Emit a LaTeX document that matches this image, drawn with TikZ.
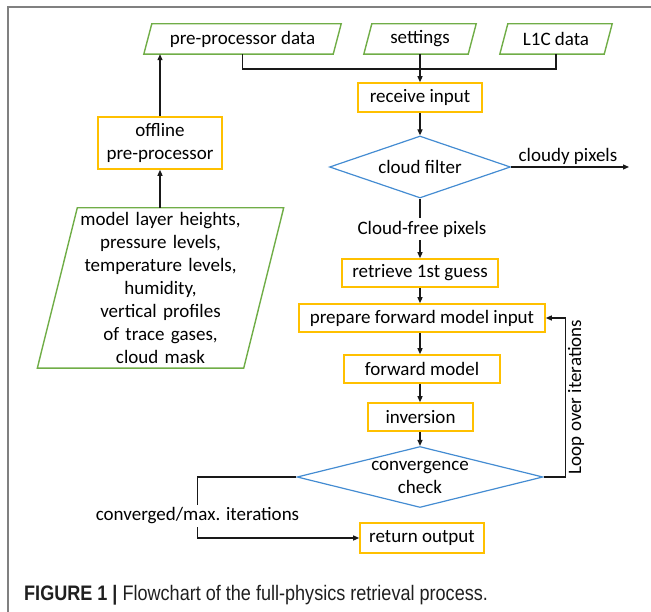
\documentclass[tikz,border=0pt]{standalone}
\usepackage{fontspec}
\setmainfont{Carlito}
\newfontfamily\capfont[FakeStretch=0.86]{Liberation Sans}
\usetikzlibrary{shapes.geometric,arrows.meta,calc}
\definecolor{pgreen}{RGB}{112,173,71}
\definecolor{pgold}{RGB}{255,192,0}
\definecolor{pblue}{RGB}{68,140,210}
\definecolor{framegray}{RGB}{128,128,128}
\newcommand{\paraoutline}[2]{\draw[paraline] ([xshift=-#2]#1.south west) -- ([xshift=#2]#1.north west) -- ([xshift=#2]#1.north east) -- ([xshift=-#2]#1.south east) -- cycle;}
\begin{document}
\begin{tikzpicture}[x=1pt,y=-1pt,
  every node/.style={font=\fontsize{19}{23}\selectfont},
  paranode/.style={draw=none, minimum height=30pt, inner sep=0pt, align=center},
  paraline/.style={draw=pgreen, line width=1.4pt, line join=miter},
  proc/.style={draw=pgold, line width=1.6pt, minimum height=28pt, inner sep=0pt, align=center},
  dec/.style={diamond, draw=pblue, line width=1.2pt, aspect=3, inner sep=0pt},
  lbl/.style={inner sep=3pt, align=center},
  conn/.style={draw=black!90, line width=1.2pt},
  arr/.style={conn, -{Triangle[length=6pt,width=5pt]}}
]
\useasboundingbox (0,0) rectangle (651,612);
\draw[framegray, line width=1.5pt] (8,612) -- (8,7) -- (651,7);

% inputs
\node[paranode, minimum width=189pt] (ppd) at (242.5,39) {pre-processor data};
\node[paranode, minimum width=104pt] (set) at (420,39) {settings};
\node[paranode, minimum width=104pt] (l1c) at (556,39) {L1C data};
\paraoutline{ppd}{4pt}
\paraoutline{set}{4pt}
\paraoutline{l1c}{4pt}

\node[paranode, minimum width=206pt, minimum height=160pt, text width=206pt] (big) at (160.5,288)
  {model layer heights,\\pressure levels,\\temperature levels,\\humidity,\\vertical profiles\\of trace gases,\\cloud mask};
\paraoutline{big}{20pt}

\node[proc, minimum width=124pt, minimum height=52pt] (off) at (160,143) {offline\\pre-processor};

% main chain
\node[proc, minimum width=124pt, minimum height=29pt] (recv) at (420,97.5) {receive input};
\node[dec, minimum width=181pt, minimum height=62pt] (cf) at (420,167) {};
\node[lbl] (cftxt) at (cf.center) {cloud filter};
\node[lbl] (cloudy) at (568,156) {cloudy pixels};
\coordinate (cloudyend) at (629,167);
\node[lbl] (cfp) at (422,229) {Cloud-free pixels};
\node[proc, minimum width=156pt] (rfg) at (420,273) {retrieve 1st guess};
\node[proc, minimum width=246pt] (pfmi) at (422,318) {prepare forward model input};
\node[proc, minimum width=156pt] (fm) at (422,369) {forward model};
\node[proc, minimum width=105pt] (inv) at (420.5,417) {inversion};
\node[dec, minimum width=246pt, minimum height=61pt] (conv) at (420,477) {};
\node[lbl] (convtxt) at (conv.center) {convergence\\check};
\node[lbl, rotate=90] (loop) at (576,397) {Loop over iterations};
\node[lbl] (conlbl) at (197.5,516) {converged/max. iterations};
\node[proc, minimum width=124pt, minimum height=30pt] (ret) at (422,538) {return output};

% connectors
\coordinate (bus) at (420,69);
\draw[conn] (ppd.south) |- (bus) -| (l1c.south);
\draw[arr] (set.south) -- (recv.north);
\draw[arr] (off.north) -- (off.north |- ppd.south);
\draw[arr] (big.north -| off.south) -- (off.south);
\draw[arr] (recv.south) -- (cf.north);
\draw[arr] (cf.east) -- (cloudyend);
\draw[conn] (cf.south) -- (cf.south |- cfp.north);
\draw[arr] (cfp.south -| rfg.north) -- (rfg.north);
\draw[arr] (rfg.south) -- (rfg.south |- pfmi.north);
\draw[arr] (pfmi.south -| rfg.south) -- (rfg.south |- fm.north);
\draw[arr] (fm.south -| rfg.south) -- (rfg.south |- inv.north);
\draw[arr] (inv.south -| rfg.south) -- (rfg.south |- conv.north);
\draw[arr] (conv.east) -| ([xshift=20pt]pfmi.east) -- (pfmi.east);
\draw[conn] (conv.west) -| (conlbl.north);
\draw[arr] (conlbl.south) |- (ret.west);

% caption
\node[anchor=base west, inner sep=0pt, text=black!88, font=\capfont\fontsize{21}{25}\selectfont] (cap) at (24,600)
  {\textbf{FIGURE 1 |} Flowchart of the full-physics retrieval process.};
\end{tikzpicture}
\end{document}
